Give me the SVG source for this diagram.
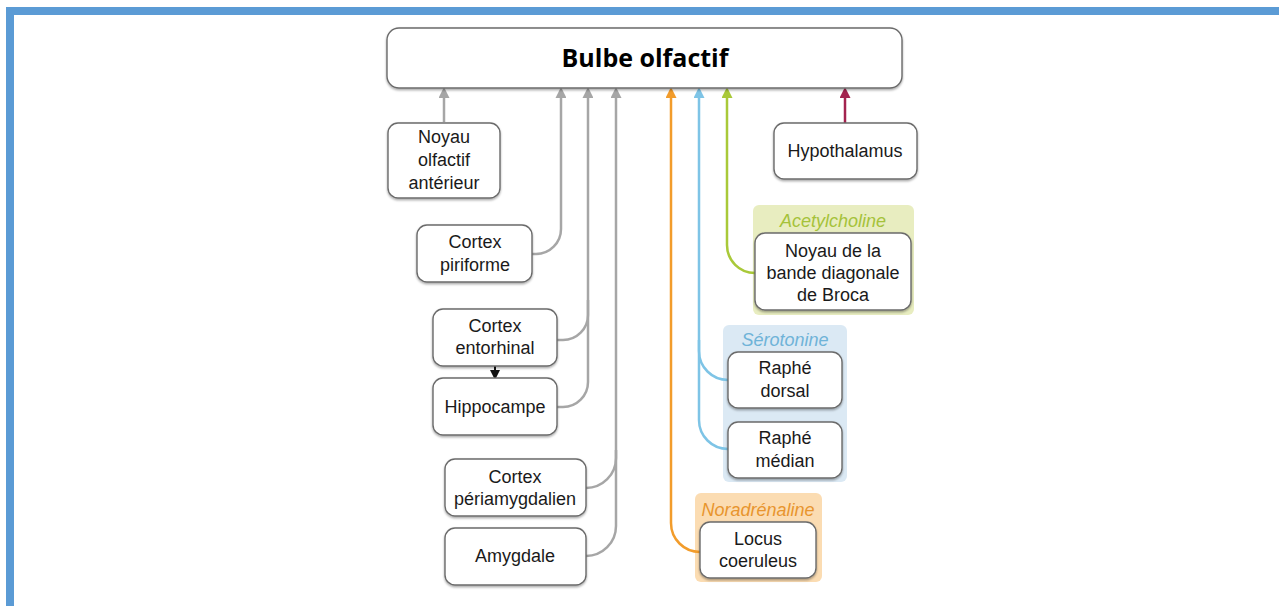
<svg xmlns="http://www.w3.org/2000/svg" width="1279" height="606" viewBox="0 0 1279 606">
<style>
.box{fill:#fff;stroke:#6b6b6b;stroke-width:1.4;filter:url(#sh)}
.t{font-family:"Liberation Sans",Arial,sans-serif;font-size:18px;fill:#1a1a1a;text-anchor:middle}
.it{font-family:"Liberation Sans",Arial,sans-serif;font-size:18px;font-style:italic;text-anchor:middle}
.c{fill:none;stroke-width:2.5}
</style>
<defs>
<filter id="sh" x="-10%" y="-10%" width="120%" height="130%"><feDropShadow dx="0" dy="1.5" stdDeviation="1" flood-color="#000" flood-opacity="0.35"/></filter>
<marker id="ag" viewBox="0 0 10 10" refX="0" refY="5" markerWidth="11" markerHeight="11" markerUnits="userSpaceOnUse" orient="auto"><path d="M0,0 L10,5 L0,10 z" fill="#a6a6a6"/></marker>
<marker id="ao" viewBox="0 0 10 10" refX="0" refY="5" markerWidth="11" markerHeight="11" markerUnits="userSpaceOnUse" orient="auto"><path d="M0,0 L10,5 L0,10 z" fill="#f29c2b"/></marker>
<marker id="ab" viewBox="0 0 10 10" refX="0" refY="5" markerWidth="11" markerHeight="11" markerUnits="userSpaceOnUse" orient="auto"><path d="M0,0 L10,5 L0,10 z" fill="#7ec4e6"/></marker>
<marker id="agr" viewBox="0 0 10 10" refX="0" refY="5" markerWidth="11" markerHeight="11" markerUnits="userSpaceOnUse" orient="auto"><path d="M0,0 L10,5 L0,10 z" fill="#a9c939"/></marker>
<marker id="ac" viewBox="0 0 10 10" refX="0" refY="5" markerWidth="11" markerHeight="11" markerUnits="userSpaceOnUse" orient="auto"><path d="M0,0 L10,5 L0,10 z" fill="#a3234f"/></marker>
<marker id="ak" viewBox="0 0 10 10" refX="0" refY="5" markerWidth="10" markerHeight="11" markerUnits="userSpaceOnUse" orient="auto"><path d="M0,0 L10,5 L0,10 z" fill="#111"/></marker>
</defs>
<rect width="1279" height="606" fill="#fff"/>
<rect x="6" y="7" width="1273" height="8" fill="#5b9bd5"/>
<rect x="6" y="7" width="8" height="599" fill="#5b9bd5"/>

<g id="groups">
<rect x="753" y="205" width="161" height="110" rx="6" fill="#e8edc0"/>
<rect x="723" y="325" width="124" height="157" rx="6" fill="#dbe9f4"/>
<rect x="695" y="493" width="127" height="89" rx="6" fill="#fbdcb2"/>
<text class="it" x="833" y="227" fill="#a5c23a">Acetylcholine</text>
<text class="it" x="785" y="346" fill="#6fb3d8">Sérotonine</text>
<text class="it" x="758" y="516" fill="#e8952e">Noradrénaline</text>
</g>

<g id="connectors">
<path class="c" stroke="#a6a6a6" d="M444,122 V98" marker-end="url(#ag)"/>
<path class="c" stroke="#a6a6a6" d="M532,254 H536 A25,25 0 0 0 561,229 V98" marker-end="url(#ag)"/>
<path class="c" stroke="#a6a6a6" d="M557,340 H563 A25,25 0 0 0 588,315 V98" marker-end="url(#ag)"/>
<path class="c" stroke="#a6a6a6" d="M557,407 H563 A25,25 0 0 0 588,382 V300"/>
<path class="c" stroke="#a6a6a6" d="M586,488 A30,30 0 0 0 616,458 V98" marker-end="url(#ag)"/>
<path class="c" stroke="#a6a6a6" d="M586,556 A30,30 0 0 0 616,526 V450"/>
<path class="c" stroke="#f29c2b" d="M700,552 A29,29 0 0 1 671,523 V98" marker-end="url(#ao)"/>
<path class="c" stroke="#7ec4e6" d="M728,380 A29,29 0 0 1 699,351 V98" marker-end="url(#ab)"/>
<path class="c" stroke="#7ec4e6" d="M728,449 A29,29 0 0 1 699,420 V340"/>
<path class="c" stroke="#a9c939" d="M755,273 A28,28 0 0 1 727,245 V98" marker-end="url(#agr)"/>
<path class="c" stroke="#a3234f" d="M845,123 V98" marker-end="url(#ac)"/>
<path fill="none" stroke="#111" stroke-width="2" d="M495,366 V370" marker-end="url(#ak)"/>
</g>

<g id="bulbe">
<rect class="box" x="387" y="28" width="515" height="60" rx="12"/>
<text x="645" y="67" text-anchor="middle" font-family="'Open Sans','Liberation Sans',sans-serif" font-weight="bold" font-size="25" fill="#000">Bulbe olfactif</text>
</g>
<g id="noyau-olfactif">
<rect class="box" x="388" y="123" width="112" height="75" rx="10"/>
<text class="t" x="444" y="143">Noyau</text>
<text class="t" x="444" y="166">olfactif</text>
<text class="t" x="444" y="189">antérieur</text>
</g>
<g id="cortex-piriforme">
<rect class="box" x="417" y="225" width="115" height="57" rx="10"/>
<text class="t" x="475" y="248">Cortex</text>
<text class="t" x="475" y="271">piriforme</text>
</g>
<g id="cortex-entorhinal">
<rect class="box" x="433" y="309" width="124" height="57" rx="10"/>
<text class="t" x="495" y="332">Cortex</text>
<text class="t" x="495" y="354">entorhinal</text>
</g>
<g id="hippocampe">
<rect class="box" x="433" y="378" width="124" height="57" rx="10"/>
<text class="t" x="495" y="413">Hippocampe</text>
</g>
<g id="cortex-periamygdalien">
<rect class="box" x="445" y="459" width="141" height="57" rx="10"/>
<text class="t" x="515" y="483">Cortex</text>
<text class="t" x="515" y="505">périamygdalien</text>
</g>
<g id="amygdale">
<rect class="box" x="445" y="528" width="141" height="57" rx="10"/>
<text class="t" x="515" y="562">Amygdale</text>
</g>
<g id="hypothalamus">
<rect class="box" x="774" y="123" width="143" height="56" rx="10"/>
<text class="t" x="845" y="157">Hypothalamus</text>
</g>
<g id="broca">
<rect class="box" x="755" y="233" width="156" height="77" rx="10"/>
<text class="t" x="833" y="257">Noyau de la</text>
<text class="t" x="833" y="279">bande diagonale</text>
<text class="t" x="833" y="301">de Broca</text>
</g>
<g id="raphe-dorsal">
<rect class="box" x="728" y="352" width="114" height="56" rx="10"/>
<text class="t" x="785" y="374">Raphé</text>
<text class="t" x="785" y="397">dorsal</text>
</g>
<g id="raphe-median">
<rect class="box" x="728" y="422" width="114" height="56" rx="10"/>
<text class="t" x="785" y="444">Raphé</text>
<text class="t" x="785" y="467">médian</text>
</g>
<g id="locus-coeruleus">
<rect class="box" x="700" y="522" width="116" height="56" rx="10"/>
<text class="t" x="758" y="545">Locus</text>
<text class="t" x="758" y="567">coeruleus</text>
</g>
</svg>
